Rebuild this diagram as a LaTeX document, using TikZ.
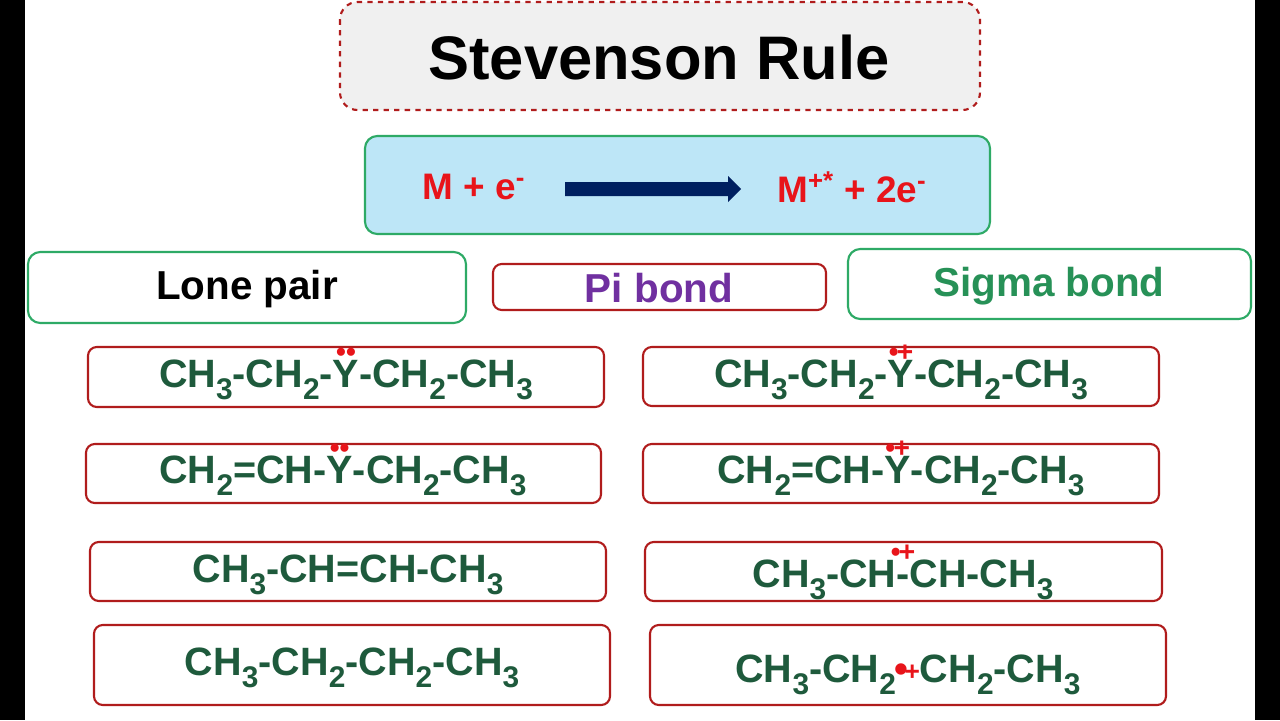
\documentclass[tikz,border=0pt]{standalone}
\usepackage{fontspec}
\setmainfont{Liberation Sans}
\usepackage{xcolor}
\definecolor{fg}{HTML}{1E5A3C}
\definecolor{br}{HTML}{B01C1C}
\definecolor{gb}{HTML}{2EAA66}
\definecolor{rd}{HTML}{E8141A}
\newcommand\sbs[1]{\raisebox{-0.32em}{\fontsize{17}{17}\selectfont #1}}
\newcommand\ovr[2]{{\ooalign{#1\cr\hidewidth\raisebox{0.66em}{\textcolor{rd}{\fontsize{16}{16}\selectfont #2}}\hidewidth\cr}}}
\newcommand\rc{\kern-1pt\textcolor{rd}{•}\kern-2pt\raisebox{1pt}{\textcolor{rd}{\fontsize{15}{15}\selectfont +}}}
\begin{document}
\begin{tikzpicture}[x=0.02cm,y=-0.02cm,
  box/.style={draw=br,line width=1.2pt,rounded corners=5pt},
  gbox/.style={draw=gb,line width=1.2pt,rounded corners=7pt},
  f/.style={font=\bfseries\fontsize{22.5}{22}\selectfont,text=fg},
  h/.style={font=\bfseries\fontsize{23}{23}\selectfont}]
\useasboundingbox (0,0) rectangle (1280,720);
\fill[white] (0,0) rectangle (1280,720);
\fill[black] (0,0) rectangle (25,720);
\fill[black] (1255,0) rectangle (1280,720);
\draw[draw=br,line width=1.2pt,dashed,fill=gray!12,rounded corners=10pt] (340,2) rectangle (980,110);
\node (title) at (659,58) {\bfseries\fontsize{35}{35}\selectfont Stevenson Rule};
\draw[gbox,fill={rgb,255:red,189;green,230;blue,247}] (365,136) rectangle (990,234);
\node[text=rd,font=\bfseries\fontsize{21}{21}\selectfont] (lhs) at (474,187) {M + e\textsuperscript{-}};
\node[text=rd,font=\bfseries\fontsize{21}{21}\selectfont] (rhs) at (852,187) {M\textsuperscript{+*} + 2e\textsuperscript{-}};
\fill[fill={rgb,255:red,0;green,32;blue,96}] (565,182) -- (728,182) -- (728,176) -- (741,189) -- (728,202) -- (728,196) -- (565,196) -- cycle;
\draw[gbox] (28,252) rectangle (466,323);
\node[h] (lp) at (247,289) {Lone pair};
\draw[box] (493,264) rectangle (826,310);
\node[h,text={rgb,255:red,112;green,48;blue,160}] (pi) at (659,288) {Pi bond};
\draw[gbox] (848,249) rectangle (1251,319);
\node[h,text=gb!85!black] (sig) at (1049,286) {Sigma bond};
% left
\draw[box] (88,347) rectangle (604,407);
\node[f] (l1) at (346,380) {CH\sbs{3}-CH\sbs{2}-\ovr{Y}{••}-CH\sbs{2}-CH\sbs{3}};
\draw[box] (86,444) rectangle (601,503);
\node[f] (l2) at (343,476) {CH\sbs{2}=CH-\ovr{Y}{••}-CH\sbs{2}-CH\sbs{3}};
\draw[box] (90,542) rectangle (606,601);
\node[f] (l3) at (348,575) {CH\sbs{3}-CH=CH-CH\sbs{3}};
\draw[box] (94,625) rectangle (610,705);
\node[f] (l4) at (352,668) {CH\sbs{3}-CH\sbs{2}-CH\sbs{2}-CH\sbs{3}};
% right
\draw[box] (643,347) rectangle (1159,406);
\node[f] (r1) at (901,380) {CH\sbs{3}-CH\sbs{2}-\ovr{Y}{•\kern-1pt+}-CH\sbs{2}-CH\sbs{3}};
\draw[box] (643,444) rectangle (1159,503);
\node[f] (r2) at (901,476) {CH\sbs{2}=CH-\ovr{Y}{•\kern-1pt+}-CH\sbs{2}-CH\sbs{3}};
\draw[box] (645,542) rectangle (1162,601);
\node[f] (r3) at (903,580) {CH\sbs{3}-CH\ovr{-}{•\kern-1pt+}CH-CH\sbs{3}};
\draw[box] (650,625) rectangle (1166,705);
\node[f] (r4) at (908,675) {CH\sbs{3}-CH\sbs{2}\rc CH\sbs{2}-CH\sbs{3}};
\end{tikzpicture}
\end{document}
